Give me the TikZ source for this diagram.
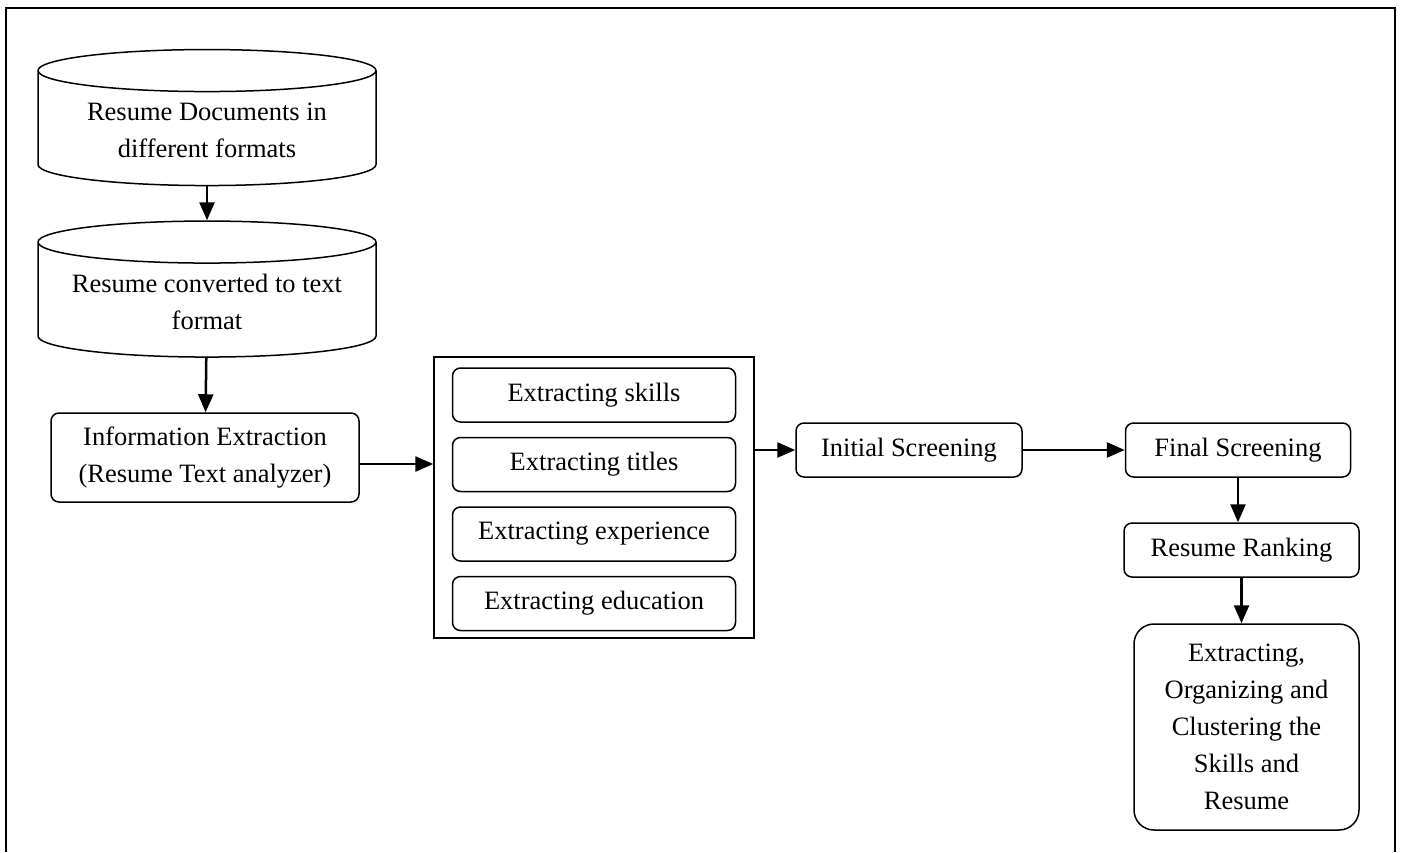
\documentclass[tikz,border=0pt]{standalone}
\usepackage{fontspec}
\setmainfont{Liberation Serif}
\usetikzlibrary{arrows.meta,shapes.geometric,positioning}

\begin{document}
\begin{tikzpicture}[x=1pt,y=-1pt,semithick,font=\fontsize{26.5}{37}\selectfont]
	  \tikzstyle{store}=[cylinder,shape border rotate=90,aspect=0.137,draw=black,line width=1.5pt,text width=300pt,minimum width=338pt,minimum height=136pt,align=flush center]
	  \tikzstyle{stepbox}=[rectangle,rounded corners=8pt,draw=black,line width=1.5pt,align=center,minimum height=54pt]
	  \tikzstyle{flow}=[-{Triangle[length=18pt,width=15pt]},line width=2.5pt]

	  \useasboundingbox (0,0) rectangle (1402,852);
	  \draw[line width=2.5pt] (6,852) -- (6,8) -- (1395,8) -- (1395,852);

	  \node[store] (docs) at (207,130.5) {Resume Documents in\\different formats};
	  \node[store] (text) [below=34pt of docs] {Resume converted to text\\format};
	  \node[stepbox,minimum width=308pt,minimum height=89pt] (info) at (205,457.5) {Information Extraction\\(Resume Text analyzer)};

	  \node[draw=black,line width=1.5pt,minimum width=320pt,minimum height=281pt] (group) at (594,497.5) {};
	  \node[stepbox,minimum width=283pt] (skills) [below=11pt of group.north] {Extracting skills};
	  \node[stepbox,minimum width=283pt] (titles) [below=14pt of skills] {Extracting titles};
	  \node[stepbox,minimum width=283pt] (exper) [below=14pt of titles] {Extracting experience};
	  \node[stepbox,minimum width=283pt] (edu) [below=14pt of exper] {Extracting education};

	  \node[stepbox,minimum width=226pt] (initial) at (909,450) {Initial Screening};
	  \node[stepbox,minimum width=225pt] (final) [right=102pt of initial] {Final Screening};
	  \node[stepbox,minimum width=235pt] (rank) at (1241.5,550) {Resume Ranking};
	  \node[stepbox,rounded corners=20pt,minimum width=225pt,minimum height=206pt] (cluster) at (1246.5,727) {Extracting,\\Organizing and\\Clustering the\\Skills and\\Resume};

	  \draw[flow] (docs) -- (text);
	  \draw[flow] (text) -- (info);
	  \draw[flow] ([yshift=-6.5pt]info.east) -- ([yshift=-6.5pt]info.east -| group.west);
	  \draw[flow] (initial -| group.east) -- (initial);
	  \draw[flow] (initial) -- (final);
	  \draw[flow] (final) -- (final |- rank.north);
	  \draw[flow] (rank) -- (rank |- cluster.north);
	\end{tikzpicture}
\end{document}
